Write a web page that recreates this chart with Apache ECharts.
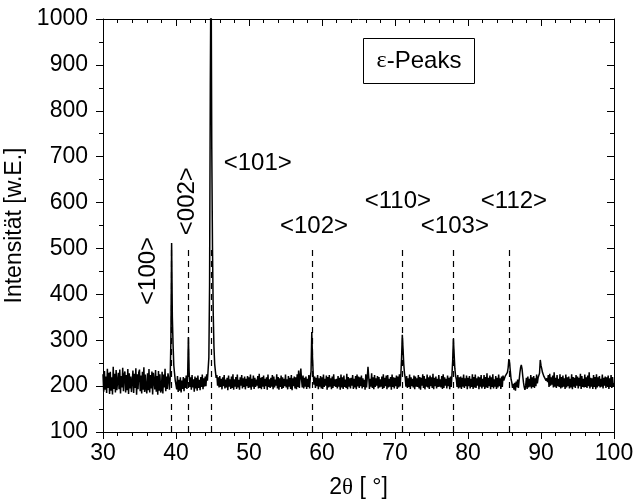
<!DOCTYPE html>
<html>
<head>
<meta charset="utf-8">
<script src="https://cdn.jsdelivr.net/npm/echarts@6/dist/echarts.min.js"></script>
<style>html,body{margin:0;padding:0;background:#fff}#c{width:635px;height:503px}</style>
</head>
<body>
<div id="c"></div>
<script>
// 2θ scan: start 30°, step 0.1°, one row per degree
const thetaStart = 30;
const thetaStep = 0.1;
const intensity = [
226,188,233,192,221,185,238,196,229,183,
231,190,219,182,242,194,227,186,235,191,
188,229,193,236,184,222,197,240,189,225,
232,186,224,191,237,183,228,195,221,187,
190,234,185,227,196,239,181,226,193,230,
236,189,223,184,231,192,241,187,225,195,
184,228,191,237,186,224,195,232,182,229,
227,193,235,188,222,181,233,190,226,186,
192,231,184,225,197,238,189,221,194,228,
218,192,215,300,512,350,290,245,228,212,
216,193,222,187,214,190,219,186,212,194,
220,189,217,196,223,194,226,307,232,198,
219,192,224,197,215,188,221,195,218,190,
223,196,214,191,220,198,225,193,217,199,
221,200,226,212,236,262,420,860,1150,720,
500,360,285,248,232,218,224,201,219,197,
222,198,216,193,219,200,224,195,214,197,
218,191,223,199,215,194,221,196,226,192,
215,199,220,194,225,197,214,192,219,201,
224,195,217,198,221,193,216,200,222,196,
219,197,225,192,216,199,223,194,218,198,
214,201,222,195,227,196,218,193,220,199,
223,194,216,200,219,192,225,198,215,196,
218,199,224,193,221,197,214,201,226,195,
220,192,217,198,223,194,219,196,216,200,
225,197,215,193,222,199,218,194,224,191,
217,200,221,195,219,193,226,198,234,196,
220,238,214,197,223,195,218,199,221,194,
216,198,224,195,219,232,318,262,225,203,
221,196,218,200,224,193,217,199,222,195,
219,194,225,198,216,201,223,192,220,197,
224,199,217,193,221,196,226,200,215,198,
216,195,222,199,218,192,225,197,219,194,
223,198,214,196,227,193,220,199,217,195,
218,201,224,194,216,197,222,193,225,199,
221,196,219,200,223,195,217,198,214,192,
226,197,218,242,220,194,216,199,228,196,
219,193,224,198,217,201,222,195,220,197,
215,199,221,194,226,196,218,200,223,193,
224,197,216,199,220,192,225,198,219,195,
218,200,223,194,221,197,226,199,224,262,
312,282,248,228,218,199,222,196,217,198,
225,194,219,200,216,197,223,193,221,199,
217,198,224,195,220,192,218,201,226,196,
222,193,216,199,225,197,219,194,223,200,
219,196,227,193,218,200,221,195,216,198,
224,199,215,197,222,194,226,196,219,201,
216,195,223,200,218,193,221,198,224,255,
303,270,238,222,215,198,224,195,219,197,
221,194,218,199,225,196,217,200,223,193,
218,200,222,195,216,198,226,194,220,197,
225,196,217,201,221,193,219,199,224,195,
216,199,224,194,220,197,228,196,218,200,
223,193,219,198,226,195,215,199,222,194,
218,197,225,200,217,194,221,198,223,212,
215,222,218,226,230,240,259,250,232,215,
208,196,205,192,207,190,210,198,214,196,
212,228,240,246,238,222,208,198,192,201,
218,194,221,197,216,199,224,195,219,198,
222,196,217,200,225,206,218,214,228,257,
245,238,230,226,221,218,224,212,217,209,
224,198,227,201,219,203,223,197,230,199,
218,196,224,200,216,198,226,195,220,197,
223,199,217,194,225,197,219,200,221,195,
216,197,226,193,220,199,218,196,224,201,
221,195,218,200,227,194,222,198,216,197,
225,198,219,196,223,200,230,195,218,199,
217,194,224,198,220,193,226,197,219,200,
222,197,216,199,225,195,218,201,221,196,
219,200,223,194,217,198,224,196,220,199,
207
];
const peakNames = ['<100>','<002>','<101>','<102>','<110>','<103>','<112>'];
const peakPositions = [39.4, 41.7, 44.8, 58.6, 71.0, 78.0, 85.7];
const markerTop = 500;
const xTicks = [30, 40, 50, 60, 70, 80, 90, 100];
const yTicks = [100, 200, 300, 400, 500, 600, 700, 800, 900, 1000];

// label anchors (data coordinates) and rotation in degrees
const labelAnchors = [[36.2,451,90],[41.5,603,90],[51.2,686,0],[58.9,549,0],[70.4,603,0],[78.2,549,0],[86.3,603,0]];

const pts = intensity.map((v, i) => [+(thetaStart + i * thetaStep).toFixed(2), v]);
const FONT = 'Liberation Sans, Arial, sans-serif';

const chart = echarts.init(document.getElementById('c'), null, {renderer: 'canvas'});
const axisLine = {show: true, onZero: false, lineStyle: {color: '#000', width: 1}};
chart.setOption({
  animation: false,
  backgroundColor: '#fff',
  grid: {left: 103, right: 21, top: 19, bottom: 71, containLabel: false, outerBoundsMode: 'none'},
  xAxis: [{
    type: 'value', min: xTicks[0], max: xTicks[xTicks.length-1], interval: 10,
    position: 'bottom',
    axisLine: axisLine,
    axisTick: {show: true, inside: false, length: 7, lineStyle: {color: '#000'}},
    minorTick: {show: true, splitNumber: 5, length: 4, lineStyle: {color: '#000'}},
    splitLine: {show: false},
    axisLabel: {color: '#000', fontSize: 23, fontFamily: FONT, margin: 10, formatter: v => String(v)},
    name: '{a|2}{t|θ}{a| [ °]}', nameLocation: 'middle', nameGap: 44,
    nameTextStyle: {rich: {a: {fontSize: 23, fontFamily: FONT, color: '#000'}, t: {fontSize: 23, fontFamily: 'Liberation Serif, serif', color: '#000'}}}
  }, {
    type: 'value', min: xTicks[0], max: xTicks[xTicks.length-1], interval: 10,
    position: 'top',
    axisLine: axisLine,
    axisTick: {show: true, inside: true, length: 7, lineStyle: {color: '#000'}},
    minorTick: {show: true, splitNumber: 5, length: 4, lineStyle: {color: '#000'}},
    splitLine: {show: false},
    axisLabel: {show: false}
  }],
  yAxis: [{
    type: 'value', min: yTicks[0], max: yTicks[yTicks.length-1], interval: 100,
    position: 'left',
    axisLine: axisLine,
    axisTick: {show: true, inside: false, length: 7, lineStyle: {color: '#000'}},
    minorTick: {show: true, splitNumber: 2, length: 4, lineStyle: {color: '#000'}},
    splitLine: {show: false},
    axisLabel: {color: '#000', fontSize: 23, fontFamily: FONT, margin: 15, formatter: v => String(v)},
    name: 'Intensität [w.E.]', nameLocation: 'middle', nameGap: 66,
    nameTextStyle: {fontSize: 23, fontFamily: FONT, color: '#000'}
  }, {
    type: 'value', min: yTicks[0], max: yTicks[yTicks.length-1], interval: 100,
    position: 'right',
    axisLine: axisLine,
    axisTick: {show: true, inside: true, length: 7, lineStyle: {color: '#000'}},
    minorTick: {show: true, splitNumber: 2, length: 4, lineStyle: {color: '#000'}},
    splitLine: {show: false},
    axisLabel: {show: false}
  }],
  series: [{
    type: 'line',
    data: pts,
    showSymbol: false,
    symbol: 'none',
    clip: true,
    lineStyle: {color: '#000', width: 1.5},
    z: 3,
    markLine: {
      silent: true,
      symbol: ['none', 'none'],
      label: {show: false},
      lineStyle: {color: '#000', type: [6, 5], width: 1.2},
      data: peakPositions.map(p => [{coord: [p, yTicks[0]]}, {coord: [p, markerTop]}])
    }
  }]
});

const labelGraphics = peakNames.map((n, i) => {
  const px = chart.convertToPixel({gridIndex: 0}, [labelAnchors[i][0], labelAnchors[i][1]]);
  return {
    type: 'text', x: px[0], y: px[1], rotation: labelAnchors[i][2] * Math.PI / 180, z: 10,
    style: {text: n, align: 'center', verticalAlign: 'middle', fill: '#000', fontSize: 24, fontFamily: FONT}
  };
});

chart.setOption({
  graphic: [{
    type: 'group', left: 363, top: 38, z: 10,
    children: [{
      type: 'rect', shape: {x: 0, y: 0, width: 111, height: 45},
      style: {fill: '#fff', stroke: '#000', lineWidth: 1}
    }, {
      type: 'text', x: 55.5, y: 22.5,
      style: {
        text: '{e|ε}{p|-Peaks}', align: 'center', verticalAlign: 'middle',
        rich: {e: {fontSize: 24, fontFamily: 'Liberation Serif, serif', fill: '#000'}, p: {fontSize: 24, fontFamily: FONT, fill: '#000'}}
      }
    }]
  }].concat(labelGraphics)
});
</script>
</body>
</html>
